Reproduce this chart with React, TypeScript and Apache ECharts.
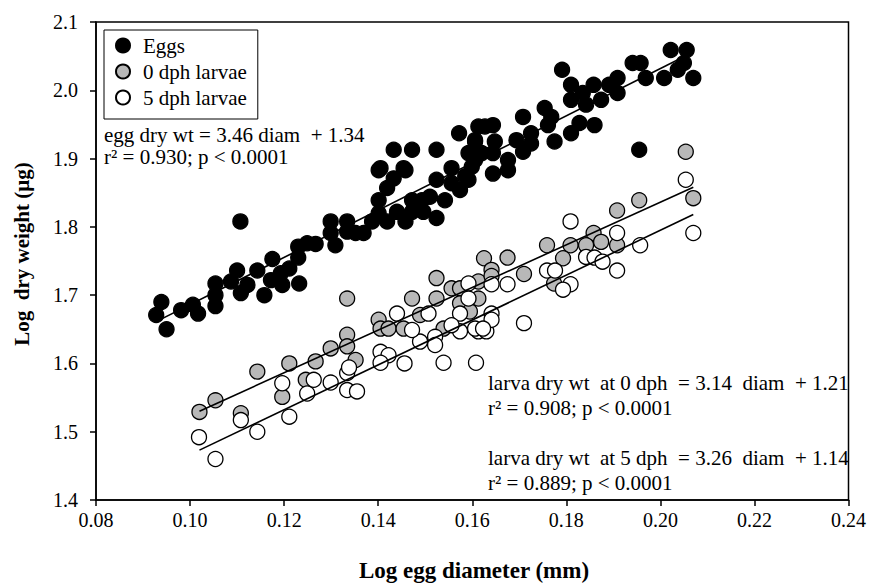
import React, { useEffect, useRef } from "react";
import * as echarts from "echarts";

const FONT = "'Liberation Serif', 'Times New Roman', serif";

const xTicks = { min: 0.08, max: 0.24, interval: 0.02 };
const yTicks = { min: 1.4, max: 2.1, interval: 0.1 };

const seriesNames = ["Eggs", "0 dph larvae", "5 dph larvae"];

const eggData: number[][] = [
  [0.0928, 1.671], [0.0939, 1.690], [0.0950, 1.650], [0.0981, 1.678], [0.1006, 1.686],
  [0.1017, 1.673], [0.1054, 1.717], [0.1054, 1.700], [0.1054, 1.684], [0.1087, 1.720],
  [0.1100, 1.736], [0.1108, 1.703], [0.1122, 1.715], [0.1143, 1.736], [0.1158, 1.700],
  [0.1175, 1.753], [0.1172, 1.722], [0.1196, 1.715], [0.1193, 1.732], [0.1107, 1.808],
  [0.1211, 1.739], [0.1230, 1.755], [0.1230, 1.771], [0.1249, 1.776], [0.1267, 1.775],
  [0.1299, 1.808], [0.1299, 1.791], [0.1309, 1.773], [0.1334, 1.808], [0.1334, 1.793],
  [0.1352, 1.791], [0.1369, 1.791], [0.1387, 1.808], [0.1401, 1.820], [0.1401, 1.839],
  [0.1419, 1.857], [0.1433, 1.871], [0.1401, 1.883], [0.1458, 1.883], [0.1419, 1.808],
  [0.1440, 1.822], [0.1458, 1.808], [0.1472, 1.839], [0.1472, 1.822], [0.1493, 1.839],
  [0.1510, 1.844], [0.1496, 1.822], [0.1524, 1.813], [0.1524, 1.869], [0.1542, 1.839],
  [0.1556, 1.864], [0.1574, 1.854], [0.1592, 1.869], [0.1572, 1.937], [0.1433, 1.913],
  [0.1472, 1.913], [0.1524, 1.913], [0.1405, 1.886], [0.1454, 1.886], [0.1556, 1.886],
  [0.1592, 1.908], [0.1606, 1.927], [0.1613, 1.947], [0.1585, 1.874], [0.1791, 2.030],
  [0.1810, 2.008], [0.1810, 1.986], [0.1858, 2.008], [0.1835, 1.996], [0.1842, 1.979],
  [0.1874, 1.986], [0.1891, 2.008], [0.1909, 2.018], [0.1909, 1.996], [0.1941, 2.040],
  [0.1958, 2.040], [0.1969, 2.018], [0.2008, 2.018], [0.1955, 1.913], [0.1754, 1.974],
  [0.1768, 1.961], [0.1708, 1.961], [0.1761, 1.949], [0.1775, 1.925], [0.1810, 1.937],
  [0.1828, 1.952], [0.1860, 1.949], [0.1725, 1.937], [0.1725, 1.922], [0.1694, 1.927],
  [0.1708, 1.910], [0.1627, 1.947], [0.1644, 1.949], [0.1606, 1.925], [0.1648, 1.925],
  [0.1644, 1.908], [0.1606, 1.898], [0.1676, 1.898], [0.1676, 1.883], [0.1644, 1.878],
  [0.1599, 1.888], [0.1620, 1.908], [0.2022, 2.059], [0.2056, 2.059], [0.2050, 2.040],
  [0.2037, 2.030], [0.2070, 2.018], [0.1232, 1.717],
];

const larva0Data: number[][] = [
  [0.1020, 1.529], [0.1054, 1.546], [0.1143, 1.588], [0.1108, 1.527], [0.1196, 1.551],
  [0.1211, 1.600], [0.1334, 1.695], [0.1267, 1.603], [0.1299, 1.622], [0.1334, 1.642],
  [0.1334, 1.625], [0.1352, 1.605], [0.1246, 1.576], [0.1401, 1.664], [0.1405, 1.651],
  [0.1422, 1.651], [0.1472, 1.695], [0.1489, 1.671], [0.1454, 1.651], [0.1524, 1.725],
  [0.1524, 1.695], [0.1556, 1.710], [0.1574, 1.710], [0.1574, 1.688], [0.1595, 1.676],
  [0.1539, 1.651], [0.1613, 1.720], [0.1955, 1.839], [0.1908, 1.824], [0.1858, 1.791],
  [0.1874, 1.778], [0.1842, 1.773], [0.1809, 1.773], [0.1908, 1.773], [0.1759, 1.773],
  [0.1793, 1.754], [0.1625, 1.754], [0.1675, 1.755], [0.1641, 1.737], [0.1641, 1.728],
  [0.1710, 1.731], [0.1613, 1.695], [0.1774, 1.717], [0.2054, 1.910], [0.2070, 1.842],
];

const larva5Data: number[][] = [
  [0.1019, 1.492], [0.1054, 1.460], [0.1108, 1.517], [0.1143, 1.500], [0.1196, 1.571],
  [0.1211, 1.522], [0.1249, 1.556], [0.1263, 1.576], [0.1299, 1.572], [0.1334, 1.586],
  [0.1338, 1.594], [0.1334, 1.561], [0.1355, 1.559], [0.1405, 1.617], [0.1422, 1.612],
  [0.1405, 1.601], [0.1456, 1.600], [0.1489, 1.632], [0.1521, 1.639], [0.1521, 1.627],
  [0.1539, 1.601], [0.1608, 1.601], [0.1574, 1.647], [0.1613, 1.647], [0.1630, 1.647],
  [0.1472, 1.649], [0.1440, 1.673], [0.1507, 1.673], [0.1592, 1.717], [0.1592, 1.695],
  [0.1574, 1.673], [0.1556, 1.656], [0.1809, 1.808], [0.1908, 1.791], [0.1957, 1.773],
  [0.1842, 1.756], [0.1860, 1.755], [0.1877, 1.749], [0.1908, 1.736], [0.1759, 1.736],
  [0.1776, 1.736], [0.1809, 1.716], [0.1793, 1.708], [0.1675, 1.716], [0.1641, 1.716],
  [0.1641, 1.673], [0.1641, 1.664], [0.1606, 1.651], [0.1623, 1.651], [0.1710, 1.659],
  [0.2054, 1.869], [0.2070, 1.791],
];

// Fitted lines, endpoints
const eggFit: number[][] = [[0.093, 1.662], [0.207, 2.056]];
const larva0Fit: number[][] = [[0.102, 1.530], [0.207, 1.858]];
const larva5Fit: number[][] = [[0.102, 1.473], [0.207, 1.818]];

const eggText = ["egg dry wt = 3.46 diam  + 1.34", "r\u00b2 = 0.930; p < 0.0001"];
const larva0Text = ["larva dry wt  at 0 dph  = 3.14  diam  + 1.21", "r\u00b2 = 0.908; p < 0.0001"];
const larva5Text = ["larva dry wt  at 5 dph  = 3.26  diam  + 1.14", "r\u00b2 = 0.889; p < 0.0001"];
const xTitle = "Log egg diameter (mm)";
const yTitle = "Log  dry weight (\u03bcg)";

function txt(text: string, x: number, y: number, size = 21, extra: any = {}) {
  const { bold, align, ...props } = extra;
  return {
    type: "text",
    x,
    y,
    silent: true,
    ...props,
    style: {
      text,
      fill: "#000",
      fontSize: size,
      fontFamily: FONT,
      fontWeight: bold ? "bold" : "normal",
      align: align || "left",
      verticalAlign: "middle",
      textAlign: align || "left",
      textVerticalAlign: "middle",
    },
  };
}

export default function App() {
  const ref = useRef<HTMLDivElement>(null);
  useEffect(() => {
    if (!ref.current) return;
    const chart = echarts.init(ref.current, null, { renderer: "svg" });
    const scatter = (name: string, data: number[][], color: string) => ({
      name,
      type: "scatter",
      data,
      symbol: "circle",
      symbolSize: 15,
      itemStyle: { color, borderColor: "#000", borderWidth: 1.3, opacity: 1 },
      emphasis: { disabled: true },
      silent: true,
    });
    const fit = (name: string, data: number[][]) => ({
      name,
      type: "line",
      data,
      symbol: "none",
      showSymbol: false,
      lineStyle: { color: "#000", width: 1.6 },
      z: 5,
      silent: true,
    });
    const axisCommon = {
      axisLine: { show: true, onZero: false, lineStyle: { color: "#000", width: 1.5 } },
      axisTick: { show: true, inside: false, length: 6, lineStyle: { color: "#000", width: 1.5 } },
      splitLine: { show: false },
    };
    chart.setOption({
      animation: false,
      backgroundColor: "#fff",
      textStyle: { fontFamily: FONT },
      grid: {
        left: 96,
        right: 17,
        top: 22,
        bottom: 84,
        show: true,
        borderColor: "#000",
        borderWidth: 1.5,
        backgroundColor: "transparent",
      },
      legend: {
        data: seriesNames,
        orient: "vertical",
        left: 104,
        top: 30,
        itemWidth: 30,
        itemHeight: 14,
        itemGap: 5,
        padding: [5, 11, 11, 11],
        borderColor: "#000",
        borderWidth: 1,
        backgroundColor: "#fff",
        selectedMode: false,
        textStyle: { color: "#000", fontSize: 21, fontFamily: FONT },
      },
      xAxis: {
        type: "value",
        min: xTicks.min,
        max: xTicks.max,
        interval: xTicks.interval,
        ...axisCommon,
        axisLabel: {
          color: "#000",
          fontSize: 20,
          fontFamily: FONT,
          margin: 10,
          formatter: (v: number) => v.toFixed(2),
        },
      },
      yAxis: {
        type: "value",
        min: yTicks.min,
        max: yTicks.max,
        interval: yTicks.interval,
        ...axisCommon,
        axisLabel: {
          color: "#000",
          fontSize: 20,
          fontFamily: FONT,
          margin: 18,
          formatter: (v: number) => v.toFixed(1),
        },
      },
      series: [
        scatter(seriesNames[0], eggData, "#000"),
        scatter(seriesNames[1], larva0Data, "#b8b8b8"),
        scatter(seriesNames[2], larva5Data, "#fff"),
        fit("eggFit", eggFit),
        fit("larva0Fit", larva0Fit),
        fit("larva5Fit", larva5Fit),
      ],
      graphic: [
        txt(eggText[0], 104, 135),
        txt(eggText[1], 104, 157),
        txt(larva0Text[0], 488, 383),
        txt(larva0Text[1], 488, 408),
        txt(larva5Text[0], 488, 458),
        txt(larva5Text[1], 488, 483),
        txt(xTitle, 474, 570, 23, { bold: true, align: "center" }),
        txt(yTitle, 22, 254, 21, { bold: true, align: "center", rotation: Math.PI / 2 }),
      ],
    });
    return () => chart.dispose();
  }, []);
  return (
    <div
      ref={ref}
      style={{ position: "fixed", left: 0, top: 0, width: 869, height: 584, background: "#fff" }}
    />
  );
}
